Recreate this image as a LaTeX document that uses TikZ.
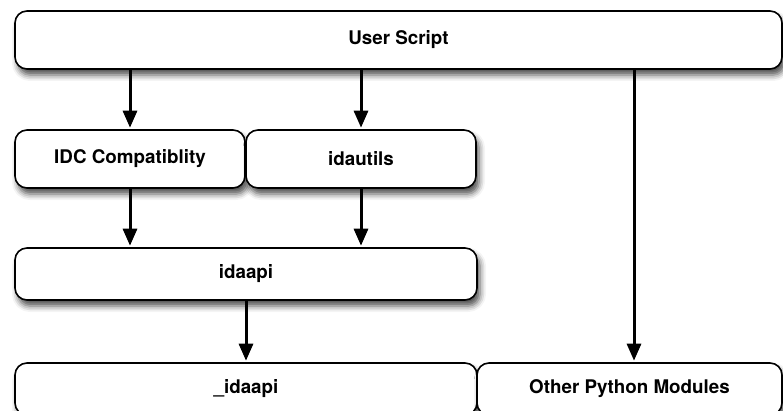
\documentclass[tikz,border=0pt]{standalone}
\usepackage{fontspec}
\setmainfont{TeX Gyre Heros}
\usetikzlibrary{arrows.meta,shadows.blur}
\tikzset{
  box/.style={draw=black, line width=1.6pt, fill=white, rounded corners=12pt,
    inner sep=0pt, font=\fontsize{18.8}{22}\selectfont\bfseries,
    blur shadow={shadow xshift=3pt, shadow yshift=-6pt, shadow blur radius=6pt, shadow opacity=70}},
  arr/.style={line width=3pt, -{Triangle[width=14pt,length=17pt]}, shorten >=1.5pt}
}
\begin{document}
\begin{tikzpicture}[x=1pt,y=-1pt]
\useasboundingbox (0,0) rectangle (783,411);
\clip (0,0) rectangle (783,411);
\node[box, minimum width=767pt, minimum height=58pt] (us) at (398.5,40) {User Script};
\node[box, minimum width=230pt, minimum height=58pt] (idc) at (130,159) {IDC Compatiblity};
\node[box, minimum width=230pt, minimum height=58pt] (ut) at (361,159) {idautils};
\node[box, minimum width=462pt, minimum height=52pt] (api) at (246,274) {idaapi};
\node[box, minimum width=462pt, minimum height=52pt] (lapi) at (246,389) {\_idaapi};
\node[box, minimum width=305pt, minimum height=52pt] (oth) at (629.5,389) {Other Python Modules};
\draw[arr] (idc.north |- us.south) -- (idc.north);
\draw[arr] (ut.north |- us.south) -- (ut.north);
\draw[arr] (idc.south) -- (idc.south |- api.north);
\draw[arr] (ut.south) -- (ut.south |- api.north);
\draw[arr] (api.south) -- (lapi.north);
\draw[arr] ([xshift=4.5pt]oth.north |- us.south) -- ([xshift=4.5pt]oth.north);
\end{tikzpicture}
\end{document}
